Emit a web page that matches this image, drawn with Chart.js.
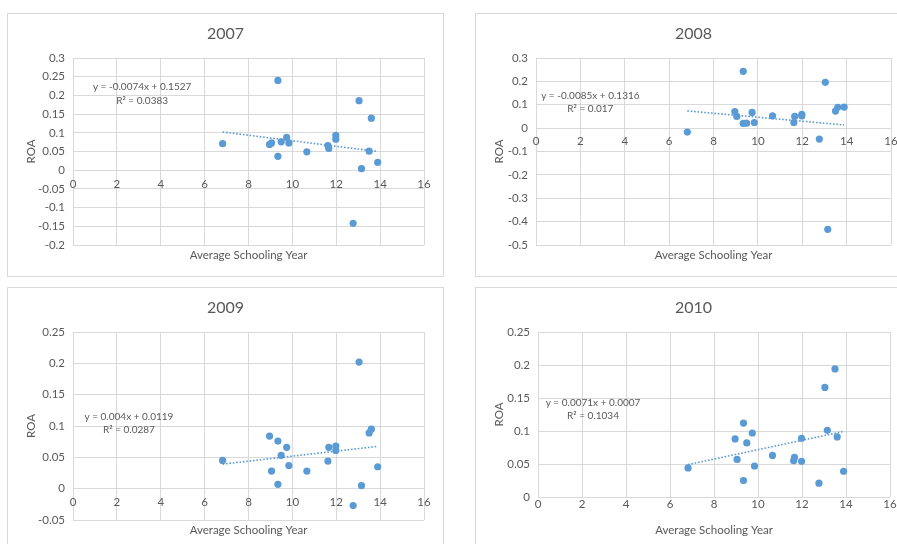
<!DOCTYPE html>
<html>
<head>
<meta charset="utf-8">
<script src="https://cdn.jsdelivr.net/npm/chart.js@4.4.0/dist/chart.umd.min.js"></script>
<style>
  html, body { margin: 0; padding: 0; background: #fff; width: 897px; height: 544px; overflow: hidden; position: relative; }
  .panel { position: absolute; width: 437px; height: 264px; background: #fff; box-shadow: inset 0 0 0 1px #d9d9d9; }
  .panel canvas { display: block; }
</style>
</head>
<body>
<div class="panel" style="left:7px;top:13px"><canvas id="c0" width="437" height="264"></canvas></div>
<div class="panel" style="left:475px;top:13px"><canvas id="c1" width="437" height="264"></canvas></div>
<div class="panel" style="left:7px;top:287px"><canvas id="c2" width="437" height="264"></canvas></div>
<div class="panel" style="left:475px;top:287px"><canvas id="c3" width="437" height="264"></canvas></div>
<script>
// --- data ---
const years = ['2007', '2008', '2009', '2010'];
const schoolingYears = [6.82, 8.96, 9.05, 9.34, 9.34, 9.49, 9.74, 9.84, 10.66, 11.62, 11.66, 11.98, 11.98, 12.77, 13.04, 13.15, 13.5, 13.6, 13.89];
const roa2007 = [0.071, 0.069, 0.073, 0.240, 0.037, 0.076, 0.088, 0.073, 0.049, 0.066, 0.058, 0.093, 0.083, -0.142, 0.186, 0.004, 0.051, 0.139, 0.021];
const roa2008 = [-0.017, 0.071, 0.050, 0.243, 0.020, 0.021, 0.067, 0.024, 0.052, 0.024, 0.050, 0.059, 0.052, -0.047, 0.196, -0.433, 0.073, 0.089, 0.090];
const roa2009 = [0.045, 0.084, 0.028, 0.076, 0.007, 0.053, 0.066, 0.037, 0.028, 0.044, 0.066, 0.068, 0.061, -0.027, 0.202, 0.005, 0.089, 0.095, 0.035];
const roa2010 = [0.044, 0.088, 0.057, 0.112, 0.025, 0.082, 0.097, 0.047, 0.063, 0.055, 0.060, 0.089, 0.054, 0.021, 0.166, 0.101, 0.194, 0.091, 0.039];
const roaByYear = [roa2007, roa2008, roa2009, roa2010];

// linear trendline shown on each chart
const trendSlope = [-0.0074, -0.0085, 0.004, 0.0071];
const trendIntercept = [0.1527, 0.1316, 0.0119, 0.0007];
const rSquared = ['0.0383', '0.017', '0.0287', '0.1034'];

// axis ranges
const yMin = [-0.2, -0.5, -0.05, 0];
const yMax = [0.3, 0.3, 0.25, 0.25];
const yStep = [0.05, 0.1, 0.05, 0.05];
const xMin = 0, xMax = 16, xStep = 2;

// --- layout of each panel (canvas px): plot area edges + where the equation goes ---
const layoutSpec = [
  { plotLeft: 66, plotTop: 45, plotRight: 417, plotBottom: 232, titleY: 242, eqAt: [3.15, 0.222], labelPad: 7 },
  { plotLeft: 61, plotTop: 45, plotRight: 416, plotBottom: 232, titleY: 242, eqAt: [2.45, 0.140], labelPad: 6 },
  { plotLeft: 66, plotTop: 45, plotRight: 417, plotBottom: 233, titleY: 243, eqAt: [2.55, 0.115], labelPad: 7 },
  { plotLeft: 63, plotTop: 45, plotRight: 415, plotBottom: 210, titleY: 243, eqAt: [2.5, 0.1435], labelPad: 0 },
];

const TEXT = '#595959';
const GRID = '#d9d9d9';
const BLUE = '#5b9bd5';
Chart.defaults.font.family = 'Lato, "Open Sans", sans-serif';
Chart.defaults.color = TEXT;

// draws the trendline equation and R² where Excel put them
const equationLabel = {
  id: 'equationLabel',
  afterDatasetsDraw(chart, args, opts) {
    const { ctx, scales } = chart;
    const px = scales.x.getPixelForValue(opts.at[0]);
    const py = scales.y.getPixelForValue(opts.at[1]);
    ctx.save();
    ctx.font = '10px ' + Chart.defaults.font.family;
    ctx.fillStyle = TEXT;
    ctx.textAlign = 'center';
    ctx.textBaseline = 'middle';
    opts.lines.forEach((t, k) => ctx.fillText(t, px, py + k * 13.5));
    ctx.restore();
  }
};

const fmt = v => String(+Number(v).toFixed(2));

years.forEach((year, i) => {
  const L = layoutSpec[i];
  const W = 437, H = 264;
  const roa = roaByYear[i];
  const points = schoolingYears.map((x, k) => ({ x: x, y: roa[k] }));
  const x0 = Math.min(...schoolingYears), x1 = Math.max(...schoolingYears);
  const trend = [x0, x1].map(x => ({ x: x, y: trendSlope[i] * x + trendIntercept[i] }));
  const eq = 'y = ' + trendSlope[i] + 'x + ' + trendIntercept[i];
  const titleSize = 16, axisTitleSize = 11.5;

  new Chart(document.getElementById('c' + i), {
    type: 'scatter',
    data: {
      datasets: [
        { label: 'ROA', data: points, backgroundColor: BLUE, borderColor: BLUE, borderWidth: 0, pointRadius: 3.6, pointHoverRadius: 3.6 },
        { type: 'line', label: 'Trend', data: trend, borderColor: BLUE, borderWidth: 1.6, borderDash: [1.6, 1.8], pointRadius: 0, fill: false }
      ]
    },
    options: {
      responsive: false,
      animation: false,
      events: [],
      layout: { padding: 0 },
      plugins: {
        legend: { display: false },
        tooltip: { enabled: false },
        title: {
          display: true, text: year, color: TEXT,
          font: { size: titleSize, weight: 'normal' },
          padding: { top: 21 - titleSize * 0.6, bottom: L.plotTop - 21 - titleSize * 0.6 }
        },
        equationLabel: { at: L.eqAt, lines: [eq, 'R\u00b2 = ' + rSquared[i]] }
      },
      scales: {
        x: {
          type: 'linear', min: xMin, max: xMax,
          ticks: { display: false, stepSize: xStep },
          grid: { color: GRID, drawTicks: false },
          border: { display: false },
          title: { display: true, text: 'Average Schooling Year', color: TEXT, font: { size: axisTitleSize }, padding: { top: 0, bottom: H - L.titleY - axisTitleSize * 0.6 } },
          afterFit: s => { s.height = H - L.plotBottom; }
        },
        xLabels: {
          type: 'linear', position: { y: 0 }, min: xMin, max: xMax,
          ticks: { stepSize: xStep, color: TEXT, font: { size: 11.5 }, padding: L.labelPad },
          grid: { display: false, drawTicks: false },
          border: { display: false }
        },
        y: {
          type: 'linear', min: yMin[i], max: yMax[i],
          ticks: { stepSize: yStep[i], color: TEXT, font: { size: 11.5 }, padding: 8, callback: fmt },
          grid: { color: GRID, drawTicks: false },
          border: { display: false },
          title: { display: true, text: 'ROA', color: TEXT, font: { size: axisTitleSize }, padding: { top: 17, bottom: 0 } },
          afterFit: s => { s.width = L.plotLeft; }
        },
        // empty right-hand axis that only reserves the white margin right of the plot
        yRight: {
          type: 'linear', position: 'right',
          ticks: { display: false },
          grid: { display: false, drawTicks: false },
          border: { display: false },
          afterFit: s => { s.width = W - L.plotRight; }
        }
      }
    },
    plugins: [equationLabel]
  });
});
</script>
</body>
</html>
